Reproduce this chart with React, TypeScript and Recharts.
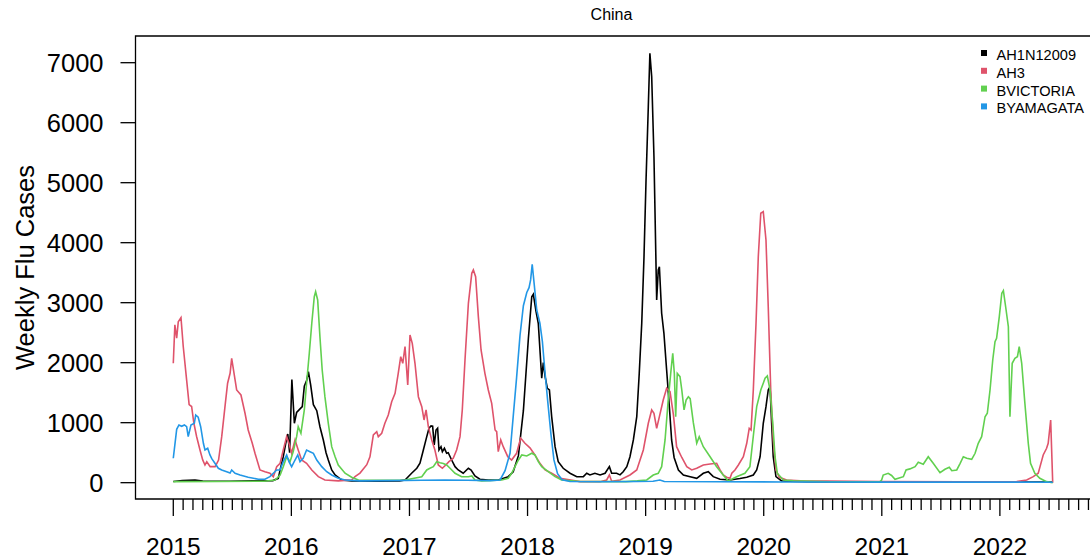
import React from 'react';
import { LineChart, Line, XAxis, YAxis, ReferenceArea } from 'recharts';

const TITLE = 'China';
const Y_LABEL = 'Weekly Flu Cases';
const YEARS = [2015, 2016, 2017, 2018, 2019, 2020, 2021, 2022];
const Y_TICKS = [0, 1000, 2000, 3000, 4000, 5000, 6000, 7000];
const START_YEAR = 2015;
const WEEKS_PER_YEAR = 52.18;
const FONT = '"Liberation Sans", Arial, Helvetica, sans-serif';

// [week since start of 2015, weekly cases]
const AH1N12009: [number, number][] = [
  [0,20],[4,35],[9.6,45],[13,28],[25,25],[35,30],[44,35],[46.4,73],[47.2,212],[48.6,433],[49.7,657],[50.6,812],[51.4,500],[52.4,1720],[53.5,990],[54.5,1170],[56,1230],[57,1267],[57.9,1610],[59,1712],[59.7,1850],[60.7,1630],[61.9,1300],[63.4,1200],[64.8,933],[66.3,712],[67.5,500],[68.5,378],[70,212],[71.5,128],[72.9,90],[74.4,45],[78.8,30],[90,25],[100,30],
  [102.4,45],[105.3,157],[107.6,240],[109,323],[110.5,545],[112,767],[113,907],[113.9,945],[114.6,940],[115.3,628],[116.1,878],[116.8,907],[117.4,545],[118.3,600],[118.9,517],[119.8,573],[120.8,490],[121.5,500],[123,378],[124.5,267],[125.9,212],[128.1,157],[130.4,240],[131.6,212],[133.3,112],[135.5,57],[139.2,45],[143.6,45],[148,100],[150.2,183],
  [152.5,450],[154.7,1200],[156.9,2400],[158.4,3100],[159.1,3140],[160.3,2850],[161.3,2650],[162.8,1740],[163.5,2000],[164.3,1767],[165.3,1573],[166.2,1545],[167.2,1100],[168.7,600],[170.1,350],[172.3,240],[175.3,157],[178.3,100],[181.2,100],[182.7,157],[184.1,128],[186.3,157],[188.6,128],[190.8,157],[192.7,267],[193.7,157],[195.9,157],[197.4,130],[198.8,183],
  [200.4,267],[201.8,433],[203.3,712],[204.8,1100],[205.9,1823],[207,2657],[208,3767],[208.9,5045],[209.9,6267],[210.6,7157],[211.4,6767],[212.4,5433],[213.6,3045],[214.3,3545],[214.8,3600],[215.8,2823],[216.8,2490],[218,1878],[219.2,1267],[220.2,712],[221.3,420],[223.2,212],[225.4,128],[228.4,100],[231.3,73],[234.2,157],[236.4,183],[238.6,100],[241.6,57],[246,45],[250.4,70],
  [253.4,90],[256.3,128],[257.8,212],[259.3,433],[260.7,990],[261.9,1267],[262.9,1545],[263.7,1600],[264.4,990],[265.1,433],[266.3,100],[268.8,30],[280,15],[320,10],[360,10],[388.6,10],
];

const AH3: [number, number][] = [
  [0,1990],[0.7,2630],[1.5,2410],[2.2,2680],[3.4,2750],[4.4,2270],[5.9,1710],[7,1300],[8.1,1270],[9.1,990],[10.3,770],[11.8,545],[13,380],[14,295],[14.8,350],[16.3,267],[18.5,267],[20,378],[21.4,767],[23,1323],[24,1657],[25.1,1823],[25.8,2073],[27.3,1712],[28,1545],[29.9,1462],[31.7,1157],[33.1,878],[34.9,657],[36.1,490],[38.3,212],[40.5,183],[42.7,157],[44.2,100],
  [45.7,267],[47.2,323],[48.6,545],[50.1,767],[51.1,657],[52.3,490],[53.8,712],[55.2,545],[56.7,378],[58.9,323],[61.2,212],[64.1,100],[67,45],[72.9,30],[78.8,45],[80.3,100],[82.5,160],[85.5,300],[86.9,430],[88.4,795],[89.9,850],[90.6,767],[92.1,823],[93.5,990],[95,1128],[96.5,1350],[98,1490],[99.4,1823],[100.5,2100],[101.4,1990],[102.4,2267],[103.6,1628],[104.6,2462],[105.6,2323],[106.8,1990],
  [108.3,1433],[109.8,1267],[110.8,1045],[111.7,1212],[112.7,933],[114.2,712],[115.6,545],[117.1,295],[118.9,240],[120.4,295],[121.8,350],[123.7,407],[125.2,545],[126.7,767],[127.7,1212],[128.9,2045],[130.4,2990],[131.9,3490],[132.6,3545],[133.6,3433],[134.8,2767],[136,2212],[137.7,1823],[139.2,1545],[140.7,1323],[142.2,878],[142.9,850],[143.6,517],[144.7,712],[145.8,600],[147.8,433],[149.5,378],
  [151.7,490],[153.5,740],[155.4,657],[157.6,580],[159.8,462],[162,323],[164.3,212],[167.2,157],[170.9,73],[179.7,17],[188.6,17],[191.5,45],[192.7,128],[193.7,25],[197.4,45],[201.8,128],[204.8,212],[207.7,545],[209.9,990],[211.4,1212],[212.4,1157],[213.6,907],[214.8,1100],[216.5,1378],[218,1573],[219.5,1517],[221,1130],[222.4,600],[224.7,420],[226.9,267],[229.1,212],[231.3,240],
  [234.2,295],[237.2,312],[240.1,323],[241.6,212],[243,128],[244.5,90],[246,73],[246.8,157],[248.2,212],[249.7,295],[251.9,433],[253.4,657],[254.5,907],[255.3,878],[256.3,1545],[257.5,2657],[258.5,3767],[259.6,4490],[260.7,4517],[261.9,4045],[262.9,2933],[264,1545],[265.1,712],[266.3,212],[267.8,90],[271,45],[277,30],[312,20],[348,15],
  [372.7,17],[377.1,45],[380,100],[382.2,157],[383,267],[384.4,462],[385.9,573],[386.6,657],[387.7,1045],[388.6,0],
];

const BVICTORIA: [number, number][] = [
  [0,17],[20,20],[40,25],[45,45],[47.2,128],[48.6,267],[50.1,433],[51.6,350],[53,517],[54.5,767],[55.2,933],[56.4,823],[57.9,1212],[58.9,1657],[60.1,2157],[61.2,2657],[62.3,3100],[62.9,3183],[63.8,3045],[64.8,2433],[65.8,1878],[67,1433],[68.5,990],[70,600],[71.5,433],[72.9,295],[75.9,157],[78.8,90],[81.8,45],[90,40],[102.4,45],
  [109.8,100],[112,212],[113.4,240],[114.9,267],[116.4,350],[117.9,333],[119.3,320],[120.8,295],[122.3,240],[124.5,157],[127.4,100],[130.4,100],[131.9,112],[133.3,45],[136.3,30],[145.1,45],[148,73],[149.5,157],[151,267],[152.5,378],[154,462],[156.2,445],[158.4,490],[159.8,462],[161.3,350],[162.8,267],[165.7,183],[168.7,100],[171.6,45],[180,20],[200,17],[205,30],
  [209.2,45],[212.1,128],[214.3,157],[215.8,267],[217.3,712],[218.7,1378],[219.8,1823],[220.7,2157],[221.4,1823],[222,1100],[222.7,1823],[223.9,1767],[224.7,1545],[225.7,1212],[226.6,1378],[227.6,1433],[228.4,1400],[229.8,1000],[231.3,657],[232.4,767],[234.2,600],[237.2,433],[240.1,267],[243,128],[245.2,30],[248.9,100],[252.6,157],[254.8,267],
  [256.6,878],[257.8,1267],[259.6,1545],[261.5,1740],[262.5,1778],[263.7,1545],[264.9,990],[265.9,433],[266.9,157],[269.6,45],[274,30],[290,15],[312.3,20],[313,45],[313.7,128],[315.9,157],[317.4,120],[318.9,57],[321.1,83],[322.6,100],[323.8,212],[325.5,230],[327.8,267],[329.2,340],[331.4,307],[333.6,433],[335.8,323],[338.8,167],[341,223],[342.9,257],[344,200],[346.2,212],
  [347.7,323],[349.1,433],[350.6,407],[352.8,390],[354.3,490],[355.7,657],[357.2,767],[358.7,1100],[359.7,1157],[360.9,1545],[362.1,2045],[363.1,2350],[363.8,2407],[365,2767],[366.1,3157],[366.8,3200],[368,2878],[369,2600],[369.7,1100],[370.7,1990],[371.9,2073],[373,2100],[373.8,2267],[374.9,1990],[376.3,1323],[377.8,657],[378.8,323],[380.7,157],[382.9,73],[385.9,17],[388.6,0],
];

const BYAMAGATA: [number, number][] = [
  [0,407],[1.5,890],[2.5,962],[3.7,940],[4.9,962],[5.9,933],[6.6,767],[7.8,962],[9.3,990],[9.9,1128],[11,1090],[12.1,933],[13.3,657],[14,545],[15.2,573],[16.2,462],[17,400],[18.4,323],[19.9,240],[21.4,212],[23.6,183],[25.1,160],[25.8,212],[27.3,157],[29.5,128],[33.1,90],[37.6,57],[40.5,57],[42.7,100],[44.2,157],[45.7,212],[47.2,212],
  [48.6,350],[50.1,462],[51.1,350],[52.3,267],[53.8,378],[55,462],[56,350],[57.4,407],[58.9,545],[60.4,517],[61.9,490],[63.4,378],[65.6,267],[67.8,183],[70,128],[72.9,73],[75.9,45],[82.5,30],[95,35],[110,40],[120,45],[130,40],[140,35],[144.4,45],
  [146.6,200],[148.8,490],[150.2,1100],[151.7,1750],[153.2,2450],[154.7,2950],[156.2,3170],[157.2,3250],[157.9,3380],[158.6,3640],[159.5,3300],[160.6,2878],[162,2657],[163.1,2350],[164.3,1820],[165.6,1300],[166.9,800],[168.2,380],[169.8,150],[171.8,50],[175.3,20],[190,15],[205,20],[212,25],[215,45],[217,20],[240,15],[270,12],[320,10],[388.6,8],
];

const SERIES = [
  { name: 'AH1N12009', color: '#000000', points: AH1N12009 },
  { name: 'AH3', color: '#DF536B', points: AH3 },
  { name: 'BVICTORIA', color: '#61D04F', points: BVICTORIA },
  { name: 'BYAMAGATA', color: '#2297E6', points: BYAMAGATA },
];

const X_MIN = 2014.68;
const X_MAX = 2022.78;
const Y_MIN = -272;
const Y_MAX = 7445;

const MONTH_TICKS: number[] = [];
YEARS.forEach((yr) => {
  for (let m = 0; m < 12; m++) {
    const t = yr + m / 12;
    if (t <= X_MAX) MONTH_TICKS.push(t);
  }
});

const toRows = (pts: [number, number][]) =>
  pts.map(([w, v]) => ({ x: START_YEAR + w / WEEKS_PER_YEAR, v }));

const XTick = (props: any) => {
  const { x, y, payload } = props;
  const v = payload.value as number;
  const isYear = Math.abs(v - Math.round(v)) < 1e-6;
  return (
    <g>
      <line x1={x} x2={x} y1={y} y2={y + (isYear ? 17 : 11)} stroke="#000" strokeWidth={1.3} />
      {isYear && (
        <text x={x} y={y + 56} textAnchor="middle" fontSize={24.5} fontFamily={FONT} fill="#000">
          {Math.round(v)}
        </text>
      )}
    </g>
  );
};

export default function App() {
  return (
    <div style={{ position: 'absolute', left: 0, top: 0, width: 1090, height: 559, overflow: 'hidden', background: '#fff' }}>
      <LineChart width={1100} height={559} margin={{ top: 36, right: 8, bottom: 0, left: 0 }}>
        <XAxis
          dataKey="x"
          type="number"
          domain={[X_MIN, X_MAX]}
          allowDataOverflow
          ticks={MONTH_TICKS}
          interval={0}
          tick={XTick}
          tickLine={false}
          axisLine={false}
          tickSize={0}
          tickMargin={0}
          height={60}
        />
        <YAxis
          type="number"
          domain={[Y_MIN, Y_MAX]}
          allowDataOverflow
          ticks={Y_TICKS}
          interval={0}
          width={135.5}
          tickSize={15}
          tickMargin={17}
          axisLine={false}
          tickLine={{ stroke: '#000', strokeWidth: 1.3 }}
          tick={{ fill: '#000', fontSize: 25.5, fontFamily: FONT }}
        />
        <ReferenceArea x1={X_MIN} x2={X_MAX} y1={Y_MIN} y2={Y_MAX} fill="none" stroke="#000" strokeWidth={1.3} ifOverflow="visible" />
        {SERIES.map((s) => (
          <Line
            key={s.name}
            data={toRows(s.points)}
            dataKey="v"
            name={s.name}
            type="linear"
            stroke={s.color}
            strokeWidth={1.6}
            dot={false}
            activeDot={false}
            isAnimationActive={false}
          />
        ))}
      </LineChart>
      <svg width={1090} height={559} style={{ position: 'absolute', left: 0, top: 0, pointerEvents: 'none' }}>
        <text x={611.5} y={20} textAnchor="middle" fontSize={16} fontFamily={FONT} fill="#000">{TITLE}</text>
        <text transform="translate(34,267.5) rotate(-90)" textAnchor="middle" fontSize={25.5} fontFamily={FONT} fill="#000">{Y_LABEL}</text>
        {SERIES.map((s, i) => (
          <g key={s.name}>
            <rect x={981} y={50 + i * 17.8} width={6} height={6} fill={s.color} />
            <text x={996.5} y={60 + i * 17.8} fontSize={14.6} fontFamily={FONT} fill="#000">{s.name}</text>
          </g>
        ))}
      </svg>
    </div>
  );
}
